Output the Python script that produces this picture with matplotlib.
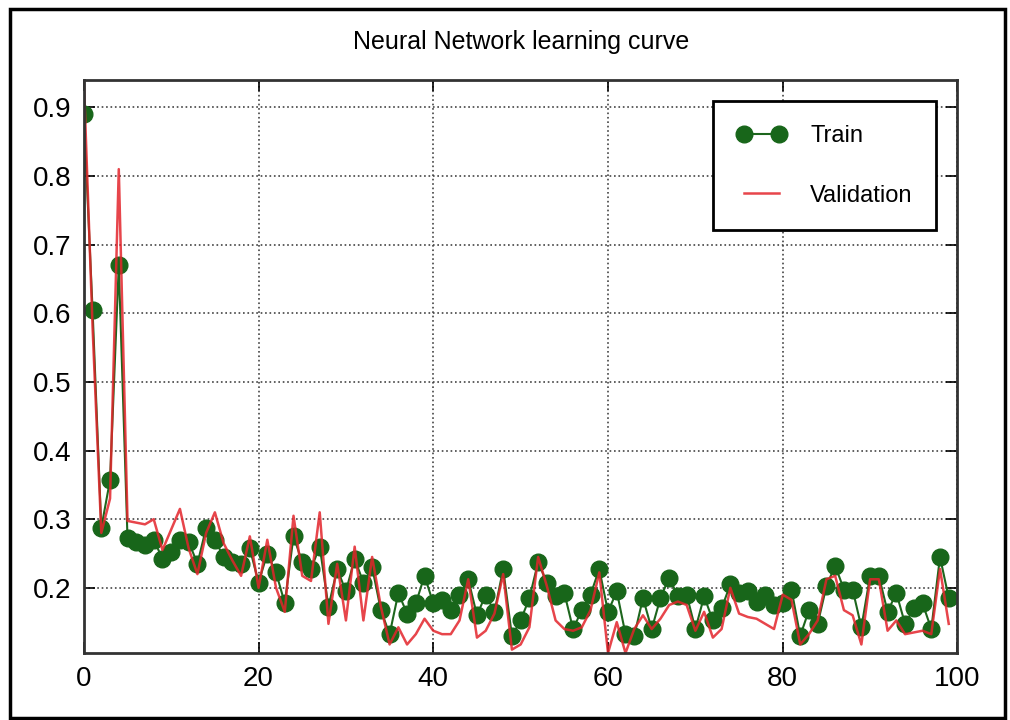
import matplotlib
matplotlib.use("Agg")
from matplotlib import pyplot as plt
from matplotlib.patches import Rectangle

# values
epochs = list(range(100))
train = [
    0.89, 0.605, 0.2875, 0.357, 0.67, 0.2725, 0.2675, 0.2625, 0.27, 0.2425,
    0.2525, 0.27, 0.2675, 0.235, 0.2875, 0.27, 0.245, 0.2375, 0.235, 0.2575,
    0.2075, 0.25, 0.2225, 0.1775, 0.275, 0.2375, 0.2275, 0.26, 0.1725, 0.2275,
    0.195, 0.2425, 0.2075, 0.23, 0.1675, 0.1325, 0.1925, 0.1625, 0.1775, 0.2175,
    0.1775, 0.1825, 0.1675, 0.19, 0.2125, 0.16, 0.19, 0.165, 0.2275, 0.13,
    0.1525, 0.185, 0.2375, 0.2075, 0.1875, 0.1925, 0.14, 0.1675, 0.19, 0.2275,
    0.165, 0.195, 0.1325, 0.13, 0.185, 0.14, 0.185, 0.215, 0.1875, 0.19,
    0.14, 0.1875, 0.1525, 0.17, 0.205, 0.1925, 0.195, 0.18, 0.19, 0.175,
    0.1775, 0.1975, 0.13, 0.1675, 0.1475, 0.2025, 0.2325, 0.1975, 0.1975, 0.1425,
    0.2175, 0.2175, 0.165, 0.1925, 0.1475, 0.17, 0.1775, 0.14, 0.245, 0.185,
]
validation = [
    0.94, 0.58, 0.28, 0.33, 0.81, 0.2975, 0.295, 0.2925, 0.3, 0.255,
    0.285, 0.315, 0.2575, 0.22, 0.28, 0.31, 0.265, 0.24, 0.2175, 0.275,
    0.2, 0.27, 0.2, 0.165, 0.305, 0.2175, 0.21, 0.31, 0.1475, 0.235,
    0.1525, 0.26, 0.1525, 0.245, 0.1725, 0.1175, 0.1425, 0.1175, 0.1325, 0.155,
    0.1375, 0.1325, 0.1325, 0.1525, 0.2125, 0.1275, 0.1375, 0.1625, 0.22, 0.11,
    0.1175, 0.1425, 0.245, 0.2025, 0.1525, 0.14, 0.1375, 0.1425, 0.1675, 0.2225,
    0.105, 0.15, 0.105, 0.14, 0.16, 0.14, 0.155, 0.175, 0.18, 0.175,
    0.1375, 0.165, 0.1275, 0.14, 0.2, 0.1625, 0.1575, 0.155, 0.1475, 0.14,
    0.19, 0.1825, 0.1175, 0.1325, 0.1525, 0.2125, 0.2175, 0.1675, 0.16, 0.1175,
    0.2125, 0.2125, 0.1375, 0.1525, 0.1325, 0.135, 0.1375, 0.1325, 0.2275, 0.1475,
]
title = "Neural Network learning curve"

plt.rcParams["font.family"] = ["Liberation Sans", "DejaVu Sans"]

fig = plt.figure(figsize=(10.1, 7.2), dpi=100)
ax = fig.add_axes([0.083, 0.093, 0.865, 0.796])

ax.plot(epochs, train, "-o", color="#1d661d", markerfacecolor="#18661a",
        markeredgecolor="#18661a", markersize=12, linewidth=1.5, label="Train")
ax.plot(epochs, validation, "-", color="#e3242b", linewidth=1.8, alpha=0.85,
        label="Validation")

ax.set_xlim(0, 100)
ax.set_ylim(0.105, 0.94)
ax.set_xticks([0, 20, 40, 60, 80, 100])
ax.set_yticks([0.2, 0.3, 0.4, 0.5, 0.6, 0.7, 0.8, 0.9])
ax.grid(True, linestyle=":", color="#444444", linewidth=1.2)
ax.tick_params(direction="in", top=True, right=True, length=8, width=1.2,
               labelsize=20, pad=9)
for s in ax.spines.values():
    s.set_linewidth(2)
    s.set_color("#333333")

ax.set_title(title, fontsize=18, pad=22)

leg = ax.legend(loc="upper right", numpoints=2, fontsize=17, fancybox=False,
                borderpad=1.0, labelspacing=1.6, handlelength=2.1,
                handletextpad=1.0, borderaxespad=0.9)
leg.get_frame().set_edgecolor("black")
leg.get_frame().set_linewidth(2)
leg.get_frame().set_alpha(1)

# border round the whole picture
fig.patches.append(Rectangle((0.01, 0.003), 0.985, 0.985, transform=fig.transFigure,
                             fill=False, edgecolor="black", linewidth=2.5))

fig.savefig("out.png", dpi=100)
